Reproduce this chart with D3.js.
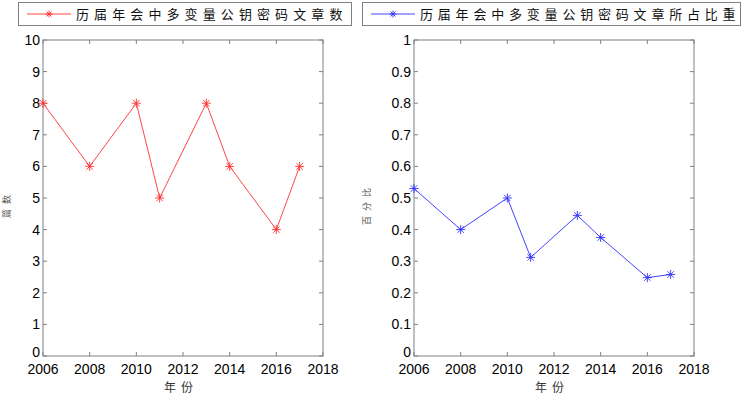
<!DOCTYPE html>
<html>
<head>
<meta charset="utf-8">
<script src="https://cdn.jsdelivr.net/npm/d3@7"></script>
<style>
  body { margin: 0; background: #fff; }
  svg { display: block; }
  text { font-family: "Liberation Sans", Arial, sans-serif; }
  .cjk { font-family: "Noto Sans CJK SC", sans-serif; }
</style>
</head>
<body>
<svg id="chart" width="749" height="395"></svg>
<script>
// data
var years = [2006, 2008, 2010, 2011, 2013, 2014, 2016, 2017];
var counts = [8, 6, 8, 5, 8, 6, 4, 6];
var ratios = [0.53, 0.40, 0.50, 0.312, 0.445, 0.375, 0.248, 0.258];
var xTicks = [2006, 2008, 2010, 2012, 2014, 2016, 2018];
var countTicks = [0, 1, 2, 3, 4, 5, 6, 7, 8, 9, 10];
var ratioTicks = [0, 0.1, 0.2, 0.3, 0.4, 0.5, 0.6, 0.7, 0.8, 0.9, 1];
var legend1 = "历届年会中多变量公钥密码文章数";
var legend2 = "历届年会中多变量公钥密码文章所占比重";

var svg = d3.select("#chart");

var panels = [
  {left: 43, values: counts, ticks: countTicks, ymax: 10, fmt: d3.format("d"),
   color: "#ff3030", ylabel: "篇数", legend: legend1, lx: 18, lw: 333, ls: 5.1, labX: 10},
  {left: 414, values: ratios, ticks: ratioTicks, ymax: 1, fmt: function(d) { return d === 0 || d === 1 ? String(d) : d3.format(".1f")(d); },
   color: "#3030ff", ylabel: "百分比", legend: legend2, lx: 362, lw: 378, ls: 4.8, labX: 370}
];

var plotTop = 40, plotBottom = 356, pw = 280;

function star(g, x, y, color, r) {
  var s = g.append("g").attr("transform", "translate(" + x + "," + y + ")")
    .attr("stroke", color).attr("stroke-width", 0.9);
  s.append("line").attr("x1", -r).attr("x2", r).attr("y1", 0).attr("y2", 0);
  s.append("line").attr("x1", 0).attr("x2", 0).attr("y1", -r).attr("y2", r);
  var d = r * 0.72;
  s.append("line").attr("x1", -d).attr("x2", d).attr("y1", -d).attr("y2", d);
  s.append("line").attr("x1", -d).attr("x2", d).attr("y1", d).attr("y2", -d);
}

panels.forEach(function(p) {
  var x = d3.scaleLinear().domain([2006, 2018]).range([p.left, p.left + pw]);
  var y = d3.scaleLinear().domain([0, p.ymax]).range([plotBottom, plotTop]);
  var g = svg.append("g");

  // box
  g.append("rect").attr("x", p.left).attr("y", plotTop).attr("width", pw).attr("height", plotBottom - plotTop)
    .attr("fill", "none").attr("stroke", "#808080").attr("stroke-width", 1);

  // inward ticks on all four sides
  var tl = 4;
  xTicks.forEach(function(t) {
    g.append("line").attr("x1", x(t)).attr("x2", x(t)).attr("y1", plotBottom).attr("y2", plotBottom - tl).attr("stroke", "#808080");
    g.append("line").attr("x1", x(t)).attr("x2", x(t)).attr("y1", plotTop).attr("y2", plotTop + tl).attr("stroke", "#808080");
    g.append("text").attr("x", x(t)).attr("y", plotBottom + 18).attr("text-anchor", "middle")
      .attr("font-size", 14).text(t);
  });
  p.ticks.forEach(function(t) {
    g.append("line").attr("x1", p.left).attr("x2", p.left + tl).attr("y1", y(t)).attr("y2", y(t)).attr("stroke", "#808080");
    g.append("line").attr("x1", p.left + pw).attr("x2", p.left + pw - tl).attr("y1", y(t)).attr("y2", y(t)).attr("stroke", "#808080");
    g.append("text").attr("x", p.left - 3).attr("y", y(t) + (t === 0 ? 1 : 5)).attr("text-anchor", "end")
      .attr("font-size", 14).text(p.fmt(t));
  });

  // line
  var line = d3.line().x(function(d, i) { return x(years[i]); }).y(function(d) { return y(d); });
  g.append("path").datum(p.values).attr("d", line).attr("fill", "none")
    .attr("stroke", p.color).attr("stroke-width", 0.9);
  p.values.forEach(function(v, i) { star(g, x(years[i]), y(v), p.color, 4.5); });

  // axis labels
  g.append("text").attr("class", "cjk").attr("x", p.left + pw / 2 - 2).attr("y", 392)
    .attr("text-anchor", "middle").attr("font-size", 12).attr("letter-spacing", 5).attr("fill", "#333").text("年份");
  g.append("text").attr("class", "cjk").attr("transform", "translate(" + p.labX + ",204) rotate(-90)")
    .attr("text-anchor", "middle").attr("font-size", 9).attr("letter-spacing", 5).attr("fill", "#555").text(p.ylabel);

  // legend
  var lg = svg.append("g");
  lg.append("rect").attr("x", p.lx + 0.5).attr("y", 2.5).attr("width", p.lw).attr("height", 23)
    .attr("fill", "#fff").attr("stroke", "#808080");
  lg.append("line").attr("x1", p.lx + 9).attr("x2", p.lx + 53).attr("y1", 14).attr("y2", 14)
    .attr("stroke", p.color).attr("stroke-width", 0.9);
  star(lg, p.lx + 31, 14, p.color, 3.5);
  lg.append("text").attr("class", "cjk").attr("x", p.lx + 58).attr("y", 19)
    .attr("font-size", 13).attr("letter-spacing", p.ls).attr("fill", "#111").text(p.legend);
});
</script>
</body>
</html>
